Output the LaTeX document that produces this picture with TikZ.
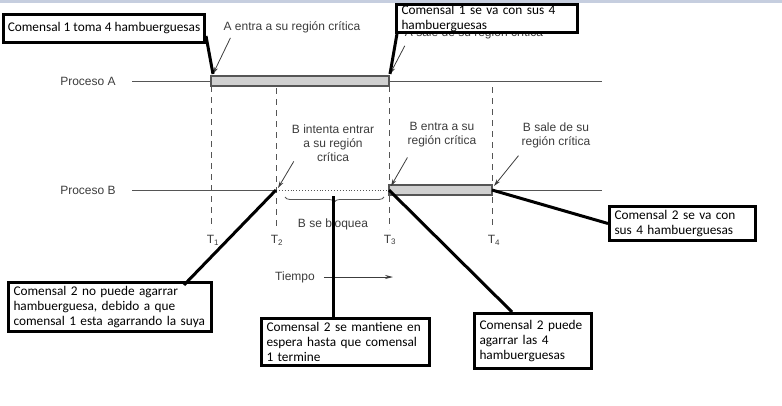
\documentclass[tikz,border=0pt]{standalone}
\usepackage{fontspec}
\setmainfont{Liberation Sans}
\newfontfamily\notefont{Carlito}
\usetikzlibrary{positioning,calc,arrows.meta,decorations.pathreplacing}
\definecolor{linegray}{HTML}{555555}
\definecolor{labelgray}{HTML}{3C3C3C}
\definecolor{barfill}{HTML}{D0D0D0}
\definecolor{topband}{HTML}{C6CEDF}

\begin{document}
\begin{tikzpicture}[x=1pt,y=-1pt,
  proc/.style={draw=linegray,line width=1pt},
  crit/.style={draw=linegray,fill=barfill,line width=1.1pt},
  tline/.style={draw=linegray,line width=0.9pt,dash pattern=on 6pt off 5pt},
  glabel/.style={text=labelgray,font=\fontsize{12}{13.8}\selectfont,align=center,inner sep=0pt},
  gpoint/.style={draw=labelgray,line width=0.8pt,-{Stealth[length=7pt,width=4pt]}},
  note/.style={draw,line width=3pt,fill=white,align=left,inner xsep=5pt,inner ysep=0.5pt,
    anchor=north west,font=\notefont\fontsize{13.3}{15.2}\selectfont},
  tie/.style={line width=3pt}]
  \useasboundingbox (0,0) rectangle (782,405);
  \fill[topband] (0,0) rectangle (782,2.5);

  % procesos
  \node[glabel] (pa) at (88,81) {Proceso A};
  \node[glabel] (pb) at (88,190) {Proceso B};
  \draw[proc] (132,81) -- (602,81);
  \draw[proc] (132,190) -- (276,190) (389,190) -- (602,190);
  \draw[linegray,dotted,line width=0.9pt] (276,190) -- (389,190);
  \draw[crit] (211,76) rectangle (389,86);
  \draw[crit] (389,185) rectangle (492,195);

  % tiempos
  \draw[tline] (211,86) -- (211,229);
  \draw[tline] (276,88) -- (276,229);
  \draw[tline] (389,86) -- (389,229);
  \draw[tline] (492,87) -- (492,229);
  \node[glabel] (t1) at (213,240) {T\textsubscript{1}};
  \node[glabel] (t2) at (277,240) {T\textsubscript{2}};
  \node[glabel] (t3) at (390,240) {T\textsubscript{3}};
  \node[glabel] (t4) at (494,240) {T\textsubscript{4}};

  \draw[linegray,line width=0.8pt,decorate,decoration={brace,amplitude=5pt,mirror}]
    (285,197) -- (384,197);
  \node[glabel] (bloq) at (333,224) {B se bloquea};

  \node[glabel] (tiempo) at (295,277) {Tiempo};
  \coordinate (tfin) at (393,277);
  \draw[gpoint,-{Stealth[length=8pt,width=4pt]}] ([xshift=9pt]tiempo.east) -- (tfin);

  % etiquetas
  \coordinate (pA1) at (213,74);
  \coordinate (pA3) at (390,74);
  \coordinate (pB2) at (278,188);
  \coordinate (pB3) at (391,186);
  \coordinate (pB4) at (494,186);
  \node[glabel] (aen) at (292,27) {A entra a su región crítica};
  \node[glabel] (asa) at (474,33) {A sale de su región crítica};
  \node[glabel] (bint) at (333,143) {B intenta entrar\\a su región\\crítica};
  \node[glabel] (ben) at (442,135) {B entra a su\\región crítica};
  \node[glabel] (bsa) at (556,135) {B sale de su\\región crítica};
  \draw[gpoint] ($(aen.south west)+(7,5)$) -- (pA1);
  \draw[gpoint] ($(asa.south west)+(0,7)$) -- (pA3);
  \draw[gpoint] ([xshift=2pt]bint.south west) -- (pB2);
  \draw[gpoint] ($(ben.south west)+(0,10)$) -- (pB3);
  \draw[gpoint] ($(bsa.south west)+(-3,8)$) -- (pB4);

  % comensales
  \node[note,inner xsep=3pt,minimum width=201pt,minimum height=28pt] (c1) at (2,13)
    {Comensal 1 toma 4 hambuerguesas};
  \node[note,text width=171pt,minimum height=26pt] (c2) at (395,3)
    {Comensal 1 se va con sus 4\\hambuerguesas};
  \node[note,text width=136pt,minimum height=34pt] (c3) at (608,205)
    {Comensal 2 se va con\\sus 4 hambuerguesas};
  \node[note,text width=193pt,minimum height=49pt] (c4) at (7,281)
    {Comensal 2 no puede agarrar\\hambuerguesa, debido a que\\comensal 1 esta agarrando la suya};
  \node[note,text width=158pt,minimum height=47pt] (c5) at (260,317)
    {Comensal 2 se mantiene en\\espera hasta que comensal\\1 termine};
  \node[note,text width=107pt,minimum height=55pt] (c6) at (473,312)
    {Comensal 2 puede\\agarrar las 4\\hambuerguesas};

  \coordinate (sB) at (276,190);
  \coordinate (eA) at (389,190);
  \coordinate (eB) at (492,190);
  \coordinate (bq) at (333,196);
  \draw[tie] ($(c1.south east)+(0,-8)$) -- (pA1);
  \draw[tie] ([xshift=2pt]c2.south west) -- (pA3);
  \draw[tie] (eB) -- (c3.west);
  \draw[tie] (sB) -- ($(c4.north east)+(-29,4)$);
  \draw[tie] (bq) -- (bq |- c5.north);
  \draw[tie] (eA) -- ($(c6.north west)+(39,0)$);
\end{tikzpicture}
\end{document}
